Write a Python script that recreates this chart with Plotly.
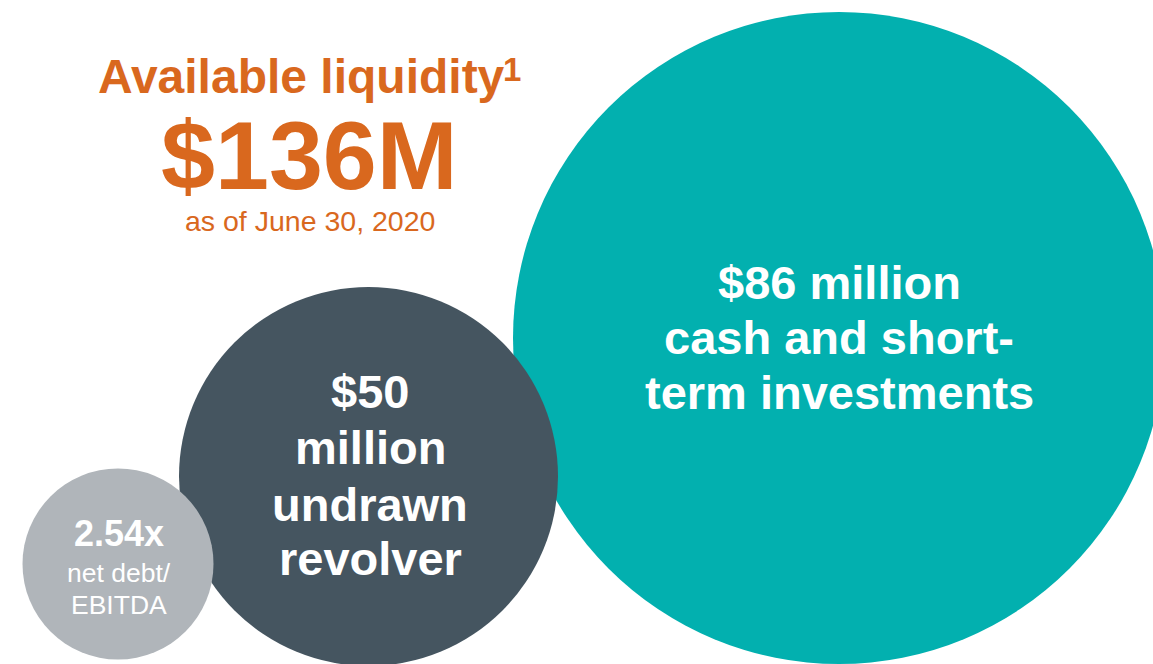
import plotly.graph_objects as go

# data
headline_label = 'Available liquidity'
headline_note = '1'
headline_total = '$136M'
headline_date = 'as of June 30, 2020'

cash_musd = 86
revolver_musd = 50
leverage = 2.54

bubble_lines = [
    ['${} million'.format(cash_musd), 'cash and short-', 'term investments'],
    ['${}'.format(revolver_musd), 'million', 'undrawn', 'revolver'],
    ['{}x'.format(leverage), 'net debt/', 'EBITDA'],
]
bubble_colors = ['#02B0AF', '#455560', '#B0B5BA']

# layout geometry (pixels of a 1153x664 canvas)
W, H = 1153, 664
cx = [839, 368.5, 118]
cy = [338, 476.5, 564]
rad = [326, 189.5, 95.5]

text_x = [839, 370, 119]
first_base = [298, 407, 545]
line_gap = [[55, 55], [56, 57, 54], [36, 32]]
line_size = [[47, 47, 47], [47, 47, 47, 47], [36, 26.5, 26.5]]
line_bold = [[1, 1, 1], [1, 1, 1, 1], [1, 0, 0]]

orange = '#D9681E'
font = 'Arial, Liberation Sans, sans-serif'


def mid(baseline, size):
    return baseline - 0.32 * size


fig = go.Figure()
fig.add_trace(go.Scatter(x=[0, W], y=[0, H], mode='markers', marker=dict(opacity=0), hoverinfo='skip'))

for x, y, r, c in zip(cx, cy, rad, bubble_colors):
    fig.add_shape(type='circle', xref='x', yref='y',
                  x0=x - r, x1=x + r, y0=y - r, y1=y + r,
                  fillcolor=c, line=dict(width=0), layer='above')

for i, lines in enumerate(bubble_lines):
    base = first_base[i]
    for j, t in enumerate(lines):
        if j > 0:
            base += line_gap[i][j - 1]
        s = line_size[i][j]
        fig.add_annotation(x=text_x[i], y=mid(base, s), xref='x', yref='y', showarrow=False,
                           text='<b>{}</b>'.format(t) if line_bold[i][j] else t,
                           font=dict(family=font, size=s, color='white'),
                           xanchor='center', yanchor='middle')

fig.add_annotation(x=301, y=mid(92, 48), xref='x', yref='y', showarrow=False,
                   text='<b>{}</b>'.format(headline_label),
                   font=dict(family=font, size=48, color=orange))
fig.add_annotation(x=501, y=mid(80, 33), xref='x', yref='y', showarrow=False, xanchor='left',
                   text='<b>{}</b>'.format(headline_note),
                   font=dict(family=font, size=33, color=orange))
fig.add_annotation(x=309, y=mid(187, 97), xref='x', yref='y', showarrow=False,
                   text='<b>{}</b>'.format(headline_total),
                   font=dict(family=font, size=97, color=orange))
fig.add_annotation(x=310, y=mid(230, 28.5), xref='x', yref='y', showarrow=False,
                   text=headline_date,
                   font=dict(family=font, size=28.5, color=orange))

fig.update_xaxes(range=[0, W], visible=False, fixedrange=True)
fig.update_yaxes(range=[H, 0], visible=False, fixedrange=True)
fig.update_layout(width=W, height=H, margin=dict(l=0, r=0, t=0, b=0),
                  plot_bgcolor='white', paper_bgcolor='white', showlegend=False)

fig.write_html('out.html', config={'displayModeBar': False},
               post_script="document.body.style.margin='0';")
